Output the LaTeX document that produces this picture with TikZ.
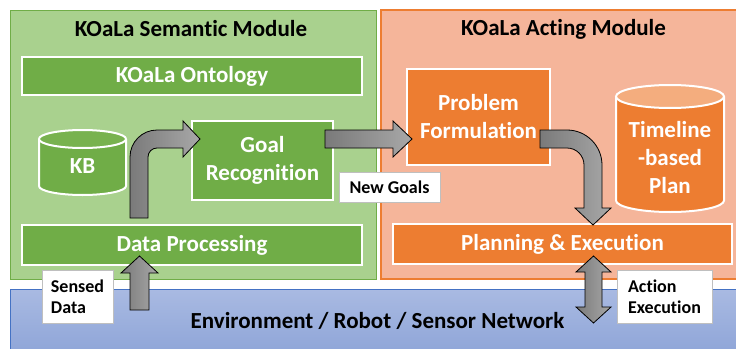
\documentclass[tikz,border=0pt]{standalone}
\usepackage{fontspec}
\setmainfont{Carlito}[Ligatures={CommonOff,ContextualOff}]
\usetikzlibrary{calc}

\definecolor{grnlight}{HTML}{A9D18E}
\definecolor{grn}{HTML}{70AD47}
\definecolor{grntop}{HTML}{78B24F}
\definecolor{orglight}{HTML}{F5B59A}
\definecolor{org}{HTML}{ED7D31}
\definecolor{orgtop}{HTML}{F4AD7E}
\definecolor{bluetop}{HTML}{A9BAE2}
\definecolor{bluebot}{HTML}{8CA3D7}
\definecolor{blueline}{HTML}{4472C4}
\definecolor{arrdark}{HTML}{7A7A7A}
\definecolor{arrlight}{HTML}{A8A8A8}
\definecolor{tagline}{HTML}{BFBFBF}

\begin{document}
\begin{tikzpicture}[x=1pt,y=-1pt,
  module/.style={rectangle, inner sep=0pt, outer sep=0pt, line width=1pt},
  bigtext/.style={font=\bfseries\fontsize{23}{28}\selectfont},
  gbox/.style={rectangle, inner sep=0pt, outer sep=0pt, fill=grn, draw=white,
    line width=2pt, text=white, bigtext, align=center},
  obox/.style={gbox, fill=org},
  title/.style={bigtext, anchor=base, inner sep=0pt},
  celltext/.style={bigtext, text=white, align=center, inner sep=0pt},
  tag/.style={rectangle, fill=white, draw=tagline, line width=1pt, inner sep=0pt,
    font=\bfseries\fontsize{18}{21}\selectfont, align=left},
  blockarrow/.style={draw=black, line width=0.8pt, left color=arrdark, right color=arrlight},
  harrow/.style={blockarrow, to path={let \p1=(\tikztostart), \p2=(\tikztotarget) in
    (\x1,\y1+9pt) -- (\x2-19pt,\y1+9pt) -- (\x2-19pt,\y1+18pt) -- (\x2,\y1)
    -- (\x2-19pt,\y1-18pt) -- (\x2-19pt,\y1-9pt) -- (\x1,\y1-9pt) -- cycle}},
  upright/.style={blockarrow, to path={let \p1=(\tikztostart), \p2=(\tikztotarget) in
    (\x1-9pt,\y1) -- (\x1-9pt,\y2-18pt)
    .. controls (\x1-9pt,\y2-3.1pt) and (\x1+3.1pt,\y2+9pt) .. (\x1+18pt,\y2+9pt)
    -- (\x2-17pt,\y2+9pt) -- (\x2-17pt,\y2+18pt) -- (\x2,\y2)
    -- (\x2-17pt,\y2-18pt) -- (\x2-17pt,\y2-9pt) -- (\x1+18pt,\y2-9pt)
    .. controls (\x1+13pt,\y2-9pt) and (\x1+9pt,\y2-13pt) .. (\x1+9pt,\y2-18pt)
    -- (\x1+9pt,\y1) -- cycle}},
  rightdown/.style={blockarrow, to path={let \p1=(\tikztostart), \p2=(\tikztotarget) in
    (\x1,\y1+9pt) -- (\x2-26pt,\y1+9pt)
    .. controls (\x2-6.7pt,\y1+9pt) and (\x2+9pt,\y1-6.7pt) .. (\x2+9pt,\y1-26pt)
    -- (\x2+9pt,\y2+17pt) -- (\x2+18pt,\y2+17pt) -- (\x2,\y2)
    -- (\x2-18pt,\y2+17pt) -- (\x2-9pt,\y2+17pt) -- (\x2-9pt,\y1-26pt)
    .. controls (\x2-9pt,\y1-16.6pt) and (\x2-16.6pt,\y1-9pt) .. (\x2-26pt,\y1-9pt)
    -- (\x1,\y1-9pt) -- cycle}},
  uparrow/.style={blockarrow, to path={let \p1=(\tikztostart), \p2=(\tikztotarget) in
    (\x2-9.5pt,\y1) -- (\x2-9.5pt,\y2-17pt) -- (\x2-18.5pt,\y2-17pt) -- (\x2,\y2)
    -- (\x2+18.5pt,\y2-17pt) -- (\x2+9.5pt,\y2-17pt) -- (\x2+9.5pt,\y1) -- cycle}},
  dblarrow/.style={blockarrow, to path={let \p1=(\tikztostart), \p2=(\tikztotarget) in
    (\x2,\y2) -- (\x2+17.5pt,\y2-16pt) -- (\x2+8.5pt,\y2-16pt) -- (\x2+8.5pt,\y1+16pt)
    -- (\x2+17.5pt,\y1+16pt) -- (\x2,\y1) -- (\x2-17.5pt,\y1+16pt) -- (\x2-8.5pt,\y1+16pt)
    -- (\x2-8.5pt,\y2-16pt) -- (\x2-17.5pt,\y2-16pt) -- cycle}}
]
\useasboundingbox (0,0) rectangle (736,348);
\clip (0,0) rectangle (736,348);

% the two modules and the environment band
\node[module, fill=grnlight, draw=grn, minimum width=366pt, minimum height=269pt] (sem) at (193,144.5) {};
\node[module, fill=orglight, draw=org, line width=1.3pt, minimum width=369pt, minimum height=269pt] (act) at (565.5,144.5) {};
\node[module, top color=bluetop, bottom color=bluebot, draw=blueline, minimum width=735pt, minimum height=71pt] (band) at (377.5,324.5) {};

\node[title] (semtitle) at (191,36.7) {KOaLa Semantic Module};
\node[title] (acttitle) at (563.5,35.5) {KOaLa Acting Module};
\node[title] (envtitle) at (377.5,328.5) {Environment / Robot / Sensor Network};

% semantic module content
\node[gbox, minimum width=340pt, minimum height=38pt] (onto) at (192,76) {KOaLa Ontology};
\node[gbox, minimum width=141pt, minimum height=79pt] (gr) at (262.5,160.5) {Goal\\Recognition};
\node[gbox, minimum width=340pt, minimum height=40pt] (dp) at (192,245) {Data Processing};

% knowledge base cylinder
\fill[grn] (39,139) -- (39,186) .. controls (39,191) and (58.5,195) .. (82.5,195)
  .. controls (106.5,195) and (126,191) .. (126,186) -- (126,139) -- cycle;
\draw[white, line width=2pt] (39,139) -- (39,186) .. controls (39,191) and (58.5,195) .. (82.5,195)
  .. controls (106.5,195) and (126,191) .. (126,186) -- (126,139);
\draw[white, line width=2pt, fill=grntop] (82.5,139) ellipse [x radius=43.5pt, y radius=9pt];
\node[celltext] (kb) at (82.5,166) {KB};

% acting module content
\node[obox, minimum width=143pt, minimum height=96pt] (pf) at (478.5,117) {Problem\\Formulation};
\node[obox, minimum width=339pt, minimum height=40pt] (pe) at (562.5,244) {Planning \& Execution};

% timeline plan cylinder
\fill[org] (616,96.5) -- (616,200.5) .. controls (616,206.85) and (640.2,212) .. (670,212)
  .. controls (699.8,212) and (724,206.85) .. (724,200.5) -- (724,96.5) -- cycle;
\draw[white, line width=2pt] (616,96.5) -- (616,200.5) .. controls (616,206.85) and (640.2,212) .. (670,212)
  .. controls (699.8,212) and (724,206.85) .. (724,200.5) -- (724,96.5);
\draw[white, line width=2pt, fill=orgtop] (670,96.5) ellipse [x radius=54pt, y radius=11.5pt];
\node[celltext] (plan) at (670,158) {Timeline\\-based\\Plan};

% connector end points
\coordinate (dp-up)  at ([xshift=117pt,yshift=7pt]dp.north west);
\coordinate (gr-in)  at ([xshift=8pt,yshift=21.5pt]gr.west);
\coordinate (gr-out) at ([xshift=-8pt,yshift=21.5pt]gr.east);
\coordinate (pf-in)  at ([xshift=5pt,yshift=-22pt]pf.west);
\coordinate (pf-out) at ([xshift=-10pt,yshift=-22pt]pf.east);
\coordinate (pe-in)  at ([xshift=30.5pt,yshift=-1pt]pe.north);
\coordinate (dp-in)  at ([xshift=-52.5pt,yshift=9pt]dp.south);
\coordinate (sensor) at (139.5,310);
\coordinate (pe-out) at ([xshift=31pt,yshift=8pt]pe.south);
\coordinate (actuator) at (593.5,323);

% block arrows
\draw[upright]   (dp-up) to (gr-in);
\draw[harrow]    (gr-out) to (pf-in);
\draw[rightdown] (pf-out) to (pe-in);
\draw[uparrow]   (sensor) to (dp-in);
\draw[dblarrow]  (actuator) to (pe-out);

% connector labels
\node[tag, minimum width=101pt, minimum height=30pt] (newgoals) at (389.5,187) {New Goals};
\node[tag, minimum width=71pt, minimum height=53pt] (sensed) at (77.5,296.5) {Sensed\\Data};
\node[tag, minimum width=95pt, minimum height=53pt] (actexec) at (664.5,296.5) {Action\\Execution};
\end{tikzpicture}
\end{document}
